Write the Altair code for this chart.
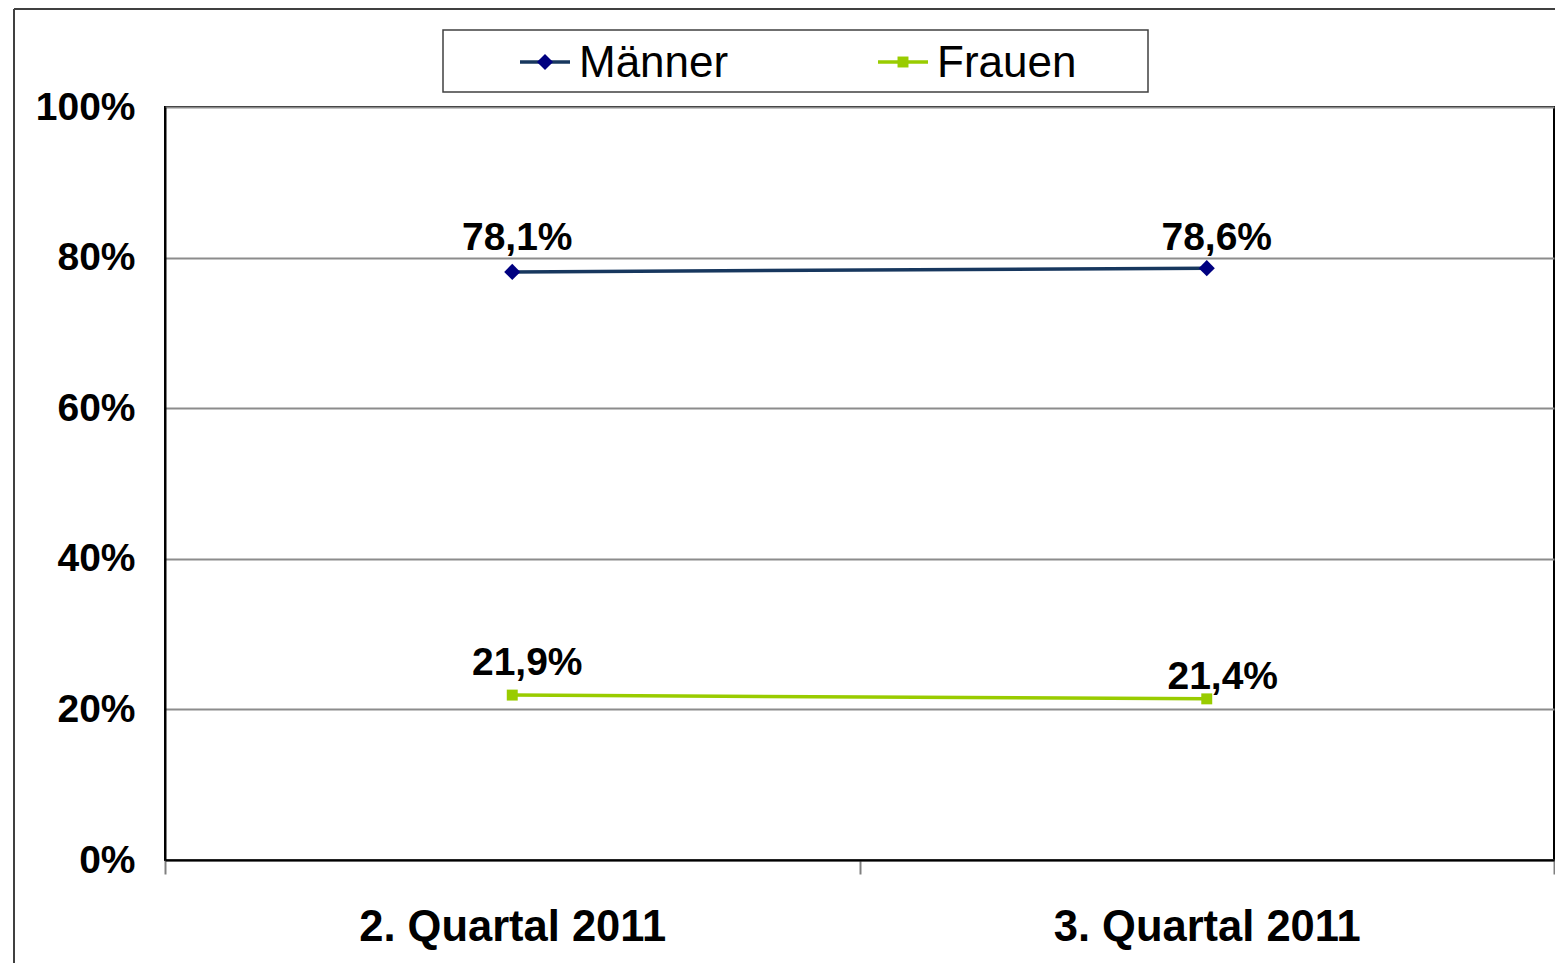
import altair as alt
import pandas as pd

quarters = ["2. Quartal 2011", "3. Quartal 2011"]
series = ["Männer", "Frauen"]
maenner = [78.1, 78.6]
frauen = [21.9, 21.4]
line_colors = ["#17375E", "#99CC00"]
marker_colors = ["#000080", "#99CC00"]
marker_shapes = ["diamond", "square"]
marker_sizes = [260, 120]

rows = []
for s, vals in zip(series, [maenner, frauen]):
    for q, v in zip(quarters, vals):
        rows.append({"quarter": q, "series": s, "value": v / 100.0,
                     "label": f"{v:.1f}%".replace(".", ",")})
df = pd.DataFrame(rows)

FONT = "Liberation Sans"

x_enc = alt.X("quarter:N", sort=quarters,
              scale=alt.Scale(type="band", paddingInner=0, paddingOuter=0),
              axis=alt.Axis(title=None, labelAngle=0, labelFont=FONT, labelFontSize=43.5,
                            labelFontWeight="bold", labelColor="black", labelPadding=32,
                            labelLimit=0,
                            tickBand="extent", tickSize=14, tickColor="#808080", tickWidth=2,
                            domainColor="black", domainWidth=2, grid=False))
y_enc = alt.Y("value:Q", scale=alt.Scale(domain=[0, 1], nice=False),
              axis=alt.Axis(title=None, format=".0%", values=[0, 0.2, 0.4, 0.6, 0.8, 1.0],
                            labelFont=FONT, labelFontSize=39, labelFontWeight="bold",
                            labelColor="black", labelPadding=30, ticks=False,
                            domainColor="black", domainWidth=2,
                            grid=True, gridColor="#8c8c8c", gridWidth=2))

base = alt.Chart(df)

lines = base.mark_line(strokeWidth=3.5).encode(
    x=x_enc, y=y_enc,
    color=alt.Color("series:N", scale=alt.Scale(domain=series, range=line_colors), legend=None),
)
points = base.mark_point(filled=True, opacity=1, strokeWidth=0).encode(
    x=x_enc, y=y_enc,
    fill=alt.Fill("series:N", scale=alt.Scale(domain=series, range=marker_colors), legend=None),
    shape=alt.Shape("series:N", scale=alt.Scale(domain=series, range=marker_shapes), legend=None),
    size=alt.Size("series:N", scale=alt.Scale(domain=series, range=marker_sizes), legend=None),
)

# data labels, offsets per point as in the reference
label_offsets = {("Männer", quarters[0]): (5, -34), ("Männer", quarters[1]): (10, -30),
                 ("Frauen", quarters[0]): (15, -32), ("Frauen", quarters[1]): (16, -22)}
label_layers = []
for (s, q), (dx, dy) in label_offsets.items():
    label_layers.append(
        base.transform_filter((alt.datum.series == s) & (alt.datum.quarter == q))
        .mark_text(font=FONT, fontSize=39, fontWeight="bold", color="black", dx=dx, dy=dy)
        .encode(x=x_enc, y=y_enc, text="label:N"))

one = alt.Data(values=[{"a": 1}])

# outer frame (top and left edges visible)
frame_top = alt.Chart(one).mark_rule(color="#404040", strokeWidth=2).encode(
    x=alt.value(-151), x2=alt.value(1400), y=alt.value(-98))
frame_left = alt.Chart(one).mark_rule(color="#404040", strokeWidth=2).encode(
    x=alt.value(-151), y=alt.value(-98), y2=alt.value(900))

# legend
legend_box = alt.Chart(one).mark_rect(fill="white", stroke="#404040", strokeWidth=1.5).encode(
    x=alt.value(278), x2=alt.value(983), y=alt.value(-77), y2=alt.value(-15))
legend_layers = [legend_box]
for i, s in enumerate(series):
    ox = 355 + 358 * i
    d = alt.Data(values=[{"name": s}])
    legend_layers.append(alt.Chart(d).mark_rule(color=line_colors[i], strokeWidth=3.5).encode(
        x=alt.value(ox), x2=alt.value(ox + 50), y=alt.value(-45)))
    legend_layers.append(alt.Chart(d).mark_point(filled=True, opacity=1, strokeWidth=0,
                                                 shape=marker_shapes[i], size=marker_sizes[i],
                                                 color=marker_colors[i]).encode(
        x=alt.value(ox + 25), y=alt.value(-45)))
    legend_layers.append(alt.Chart(d).mark_text(font=FONT, fontSize=44, align="left",
                                                baseline="middle", color="black").encode(
        x=alt.value(ox + 59), y=alt.value(-43), text="name:N"))

chart = alt.layer(frame_top, frame_left, lines, points, *label_layers, *legend_layers).properties(
    width=1389, height=753,
    autosize=alt.AutoSizeParams(type="none"),
    padding={"left": 157, "top": 99, "right": 1, "bottom": 103},
    background="white",
).configure_view(stroke="black", strokeWidth=2)

chart.save("out.html", embed_options={"renderer": "svg", "actions": False})
